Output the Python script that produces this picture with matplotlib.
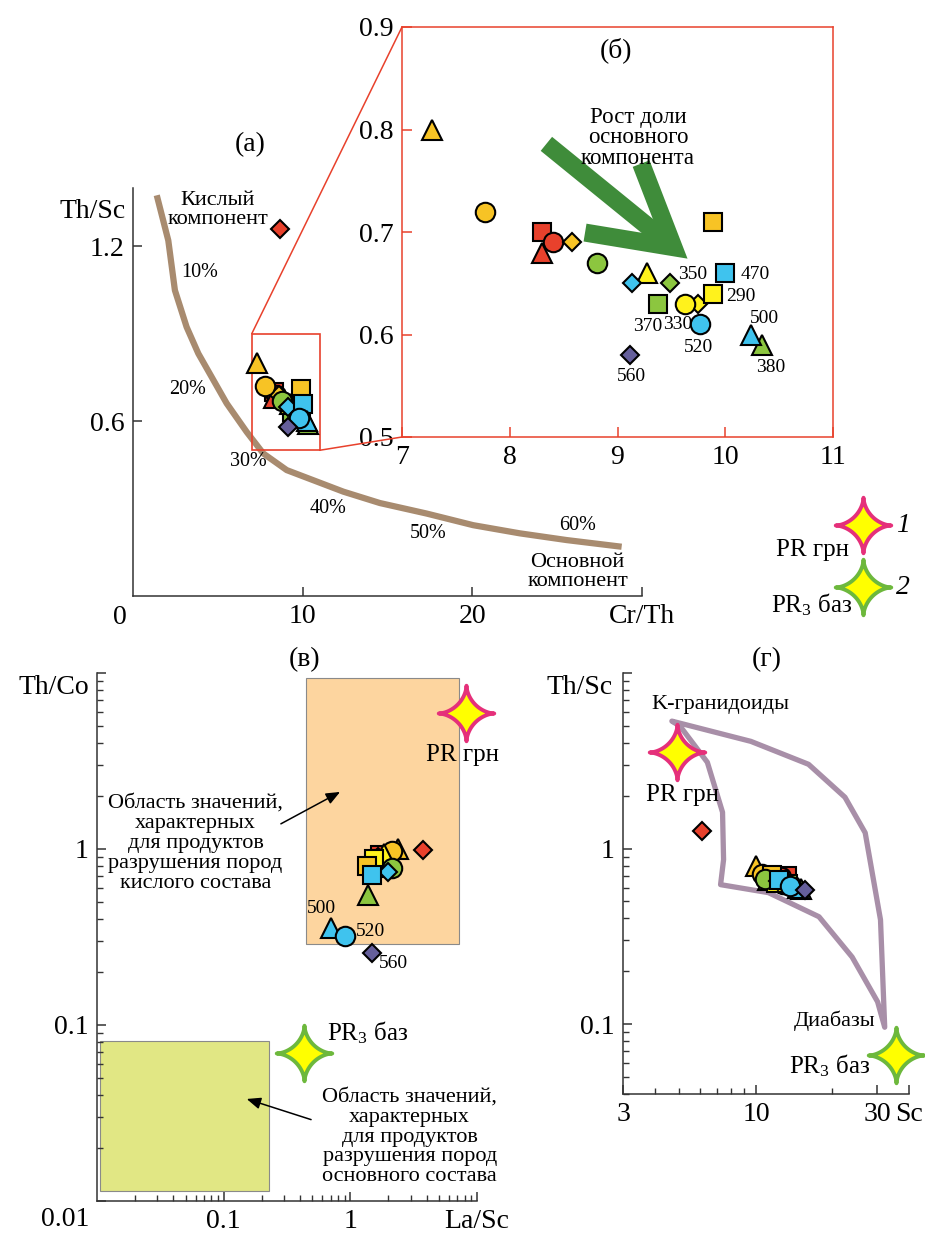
import numpy as np
import matplotlib.pyplot as plt
from matplotlib.path import Path
from matplotlib.patches import Rectangle, Polygon, ConnectionPatch
from matplotlib.lines import Line2D
from matplotlib.ticker import NullFormatter

plt.rcParams['font.family'] = ['Liberation Serif', 'DejaVu Serif']
plt.rcParams['mathtext.fontset'] = 'custom'
plt.rcParams['mathtext.rm'] = 'Liberation Serif'
plt.rcParams['mathtext.it'] = 'Liberation Serif:italic'

RED = '#e8412c'
GOLD = '#f7c325'
YEL = '#fff21c'
GRN = '#8cc63f'
BLU = '#3fc3ee'
PUR = '#655f9b'

# samples: symbol, fill colour and ratios
sym = ['s', 'o', '^', 'D', 'D', 'o', 'D', 's', '^', 'o', '^',
       's', 's', 'o', 'D', 's', '^', '^', 'o', 'D', 'D']
col = [RED, RED, RED, GOLD, YEL, YEL, GRN, GRN, GOLD, GOLD, YEL,
       YEL, GOLD, GRN, BLU, BLU, GRN, BLU, BLU, PUR, RED]
cr_th = [8.30, 8.40, 8.30, 8.58, 9.75, 9.63, 9.49, 9.38, 7.28, 7.77, 9.27,
         9.89, 9.89, 8.81, 9.13, 10.0, 10.34, 10.24, 9.77, 9.12, 8.66]
th_sc = [0.70, 0.69, 0.68, 0.69, 0.63, 0.63, 0.65, 0.63, 0.80, 0.72, 0.66,
         0.64, 0.71, 0.67, 0.65, 0.66, 0.59, 0.60, 0.61, 0.58, 1.26]
la_sc = [1.70, 2.00, 2.05, 1.65, 1.90, 1.75, 1.80, 1.60, 2.36, 2.15, 1.86,
         1.55, 1.36, 2.15, 1.97, 1.47, 1.39, 0.71, 0.90, 1.49, 3.73]
th_co = [0.92, 0.90, 0.88, 0.90, 0.90, 0.86, 0.80, 0.78, 1.00, 0.98, 0.94,
         0.88, 0.80, 0.78, 0.74, 0.71, 0.55, 0.355, 0.32, 0.256, 0.99]
sc = [13.2, 12.6, 12.4, 12.0, 12.6, 12.8, 13.0, 13.4, 10.0, 10.6, 11.2,
      12.0, 11.6, 10.9, 12.2, 12.3, 15.0, 14.6, 13.6, 15.6, 6.15]

# sample numbers shown next to points
num_lbl = ['350', '470', '290', '370', '330', '520', '500', '380', '560']
num_x = [9.70, 10.28, 10.14, 9.28, 9.56, 9.75, 10.36, 10.42, 9.13]
num_y = [0.659, 0.659, 0.637, 0.608, 0.610, 0.587, 0.616, 0.568, 0.559]

# mixing curve between acid and basic end members
mix_x = [1.4, 2.08, 2.47, 3.16, 3.85, 5.52, 6.70, 7.68, 9.06, 12.4,
         14.55, 17.3, 20.05, 22.8, 25.55, 28.8]
mix_y = [1.375, 1.22, 1.049, 0.923, 0.832, 0.661, 0.563, 0.489, 0.432, 0.358,
         0.319, 0.283, 0.243, 0.215, 0.192, 0.169]
pct_lbl = ['10%', '20%', '30%', '40%', '50%', '60%']
pct_x = [3.95, 3.24, 6.78, 11.5, 17.4, 26.2]
pct_y = [1.11, 0.71, 0.46, 0.30, 0.216, 0.243]

# end members
pr_grn_lasc, pr_grn_thco = 8.2, 5.9
pr3_baz_lasc, pr3_baz_thco = 0.43, 0.069
pr_grn_sc, pr_grn_thsc = 4.89, 3.54
pr3_baz_sc, pr3_baz_thsc = 35.5, 0.067

# fields in La/Sc - Th/Co
acid_field = [0.45, 7.2, 0.29, 9.4]
basic_field = [0.0105, 0.227, 0.0114, 0.081]

# K-granitoid field in Sc - Th/Sc
kgr_sc = [4.67, 9.55, 16.1, 22.4, 26.9, 30.9, 32.1, 30.1, 23.9, 17.7,
          11.2, 7.26, 7.46, 7.39, 6.44, 5.03]
kgr_thsc = [5.32, 4.08, 3.02, 1.96, 1.23, 0.393, 0.096, 0.134, 0.241, 0.409,
            0.561, 0.623, 0.865, 1.61, 3.10, 4.98]

msize = {'o': 14, 's': 13.5, '^': 15, 'D': 9.5}

t = np.linspace(0, 2 * np.pi, 161)
star_xy = np.column_stack([np.sign(np.cos(t)) * np.abs(np.cos(t)) ** 3.3,
                           np.sign(np.sin(t)) * np.abs(np.sin(t)) ** 3.3])
STAR = Path(star_xy, closed=True)

W, H = 925.0, 1233.0
TICK_FS = 20
NOTE_FS = 16


def box(l, t, r, b):
    return [l / W, 1 - b / H, (r - l) / W, (b - t) / H]


def ftext(px, py, s, **kw):
    fig.text(px / W, 1 - py / H, s, **kw)


def style(ax):
    for s in ['top', 'right']:
        ax.spines[s].set_visible(False)
    for s in ['left', 'bottom']:
        ax.spines[s].set_linewidth(1.1)
        ax.spines[s].set_color('#333333')
    ax.tick_params(which='major', direction='in', length=6.5, width=1.1,
                   labelsize=TICK_FS, pad=6, color='#333333')
    ax.tick_params(which='minor', direction='in', length=4.5, width=1.0,
                   color='#333333')


def draw_samples(ax, xs, ys):
    for x, y, m, c in zip(xs, ys, sym, col):
        ax.plot(x, y, marker=m, ms=msize[m], mfc=c, mec='black', mew=1.5,
                ls='none', zorder=5)


def draw_star(ax, x, y, edge, transform=None):
    kw = {} if transform is None else {'transform': transform}
    ln = Line2D([x], [y], marker=STAR, ms=40, mfc='#ffff00', mec=edge,
                mew=2.8, ls='none', zorder=6, clip_on=False, **kw)
    if transform is None:
        ax.add_line(ln)
    else:
        fig.add_artist(ln)


fig = plt.figure(figsize=(9.25, 12.33), dpi=100)

# (а) Cr/Th - Th/Sc
ax_a = fig.add_axes(box(133, 188, 642, 596))
style(ax_a)
ax_a.set_xlim(0, 30)
ax_a.set_ylim(0, 1.4)
ax_a.set_xticks([10, 20, 30], ['10', '20', 'Cr/Th'])
ax_a.set_yticks([0.6, 1.2], ['0.6', '1.2'])
ax_a.plot(mix_x, mix_y, color='#a88b6f', lw=4.5, solid_capstyle='butt', zorder=2)
for s, x, y in zip(pct_lbl, pct_x, pct_y):
    ax_a.text(x, y, s, fontsize=14.5, ha='center', va='center')
ax_a.add_patch(Rectangle((7, 0.5), 4, 0.4, fill=False, ec=RED, lw=1.2, zorder=3))
draw_samples(ax_a, cr_th, th_sc)
ax_a.text(5.0, 1.325, 'Кислый\nкомпонент', fontsize=NOTE_FS, ha='center',
          va='center', linespacing=0.95)
ax_a.text(26.2, 0.082, 'Основной\nкомпонент', fontsize=NOTE_FS, ha='center',
          va='center', linespacing=0.97)
ftext(126, 212, 'Th/Sc', fontsize=TICK_FS, ha='right', va='center')
ftext(120, 617, '0', fontsize=TICK_FS, ha='center', va='center')
ftext(250, 145, '(а)', fontsize=TICK_FS, ha='center', va='center')

# (б) enlarged part of (а)
ax_b = fig.add_axes(box(402, 27, 833, 437))
ax_b.set_xlim(7, 11)
ax_b.set_ylim(0.5, 0.9)
for s in ax_b.spines.values():
    s.set_color(RED)
    s.set_linewidth(1.1)
ax_b.tick_params(direction='in', length=7, width=1.1, color=RED,
                 labelsize=TICK_FS, pad=6)
ax_b.set_xticks([7, 8, 9, 10, 11], ['7', '8', '9', '10', '11'])
ax_b.set_yticks([0.5, 0.6, 0.7, 0.8, 0.9], ['0.5', '0.6', '0.7', '0.8', '0.9'])
ax_b.annotate('', xy=(9.65, 0.674), xytext=(8.34, 0.786),
              arrowprops=dict(arrowstyle='->,head_length=0.56,head_width=0.32',
                              lw=13, color='#3f8c3a', mutation_scale=100,
                              shrinkA=0, shrinkB=0, joinstyle='miter',
                              capstyle='butt'))
ax_b.text(9.19, 0.792, 'Рост доли\nосновного\nкомпонента', fontsize=NOTE_FS + 0.5,
          ha='center', va='center', linespacing=0.98, zorder=7)
draw_samples(ax_b, cr_th, th_sc)
for s, x, y in zip(num_lbl, num_x, num_y):
    ax_b.text(x, y, s, fontsize=14, ha='center', va='center', zorder=7)
ax_b.text(8.99, 0.877, '(б)', fontsize=TICK_FS, ha='center', va='center')

for xa, ya, xb, yb in [(7, 0.9, 7, 0.9), (11, 0.5, 7, 0.5)]:
    fig.add_artist(ConnectionPatch(xyA=(xa, ya), coordsA=ax_a.transData,
                                   xyB=(xb, yb), coordsB=ax_b.transData,
                                   color=RED, lw=1.1))

# legend of end members
draw_star(None, 863 / W, 1 - 525 / H, '#e5307a', transform=fig.transFigure)
draw_star(None, 863 / W, 1 - 587 / H, '#6db83c', transform=fig.transFigure)
ftext(903, 525, '1', fontsize=TICK_FS, style='italic', ha='center', va='center')
ftext(903, 587, '2', fontsize=TICK_FS, style='italic', ha='center', va='center')
ftext(812, 550, 'PR грн', fontsize=18, ha='center', va='center')
ftext(812, 605, 'PR$_3$ баз', fontsize=18, ha='center', va='center')

# (в) La/Sc - Th/Co
ax_c = fig.add_axes(box(97, 673, 477, 1201))
style(ax_c)
ax_c.set_xscale('log')
ax_c.set_yscale('log')
ax_c.set_xlim(0.01, 10)
ax_c.set_ylim(0.01, 10)
ax_c.set_xticks([0.1, 1, 10], ['0.1', '1', 'La/Sc'])
ax_c.set_yticks([0.01, 0.1, 1, 10], ['', '0.1', '1', ''])
ax_c.xaxis.set_minor_formatter(NullFormatter())
ax_c.yaxis.set_minor_formatter(NullFormatter())
ax_c.add_patch(Rectangle((acid_field[0], acid_field[2]), acid_field[1] - acid_field[0],
                         acid_field[3] - acid_field[2], fc='#fdd59f', ec='#8a8a8a',
                         lw=0.8, zorder=1))
ax_c.add_patch(Rectangle((basic_field[0], basic_field[2]), basic_field[1] - basic_field[0],
                         basic_field[3] - basic_field[2], fc='#e1e784', ec='#8a8a8a',
                         lw=0.8, zorder=1))
draw_samples(ax_c, la_sc, th_co)
draw_star(ax_c, pr_grn_lasc, pr_grn_thco, '#e5307a')
draw_star(ax_c, pr3_baz_lasc, pr3_baz_thco, '#6db83c')
ax_c.text(7.74, 3.42, 'PR грн', fontsize=18, ha='center', va='center')
ax_c.text(0.66, 0.090, 'PR$_3$ баз', fontsize=18, ha='left', va='center')
ax_c.text(0.589, 0.462, '500', fontsize=14, ha='center', va='center')
ax_c.text(1.10, 0.342, '520', fontsize=14, ha='left', va='center')
ax_c.text(1.68, 0.225, '560', fontsize=14, ha='left', va='center')
ax_c.text(0.060, 1.08, 'Область значений,\nхарактерных\nдля продуктов\n'
          'разрушения пород\nкислого состава', fontsize=NOTE_FS, ha='center',
          va='center', linespacing=1.07)
ax_c.text(2.94, 0.0231, 'Область значений,\nхарактерных\nдля продуктов\n'
          'разрушения пород\nосновного состава', fontsize=NOTE_FS, ha='center',
          va='center', linespacing=1.07)
arrow_kw = dict(arrowstyle='-|>,head_length=0.6,head_width=0.25', lw=1.1,
                color='black', mutation_scale=14, shrinkA=0, shrinkB=0)
ax_c.annotate('', xy=(0.83, 2.11), xytext=(0.283, 1.39), arrowprops=arrow_kw)
ax_c.annotate('', xy=(0.152, 0.038), xytext=(0.49, 0.029), arrowprops=arrow_kw)
ftext(89, 687, 'Th/Co', fontsize=TICK_FS, ha='right', va='center')
ftext(65, 1220, '0.01', fontsize=TICK_FS, ha='center', va='center')
ftext(305, 660, '(в)', fontsize=TICK_FS, ha='center', va='center')

# (г) Sc - Th/Sc
ax_d = fig.add_axes(box(623, 673, 909, 1094))
style(ax_d)
ax_d.set_xscale('log')
ax_d.set_yscale('log')
ax_d.set_xlim(3, 40)
ax_d.set_ylim(0.04, 10)
ax_d.set_xticks([3, 10, 30, 40], ['3', '10', '30', 'Sc'])
ax_d.set_yticks([0.1, 1, 10], ['0.1', '1', ''])
ax_d.xaxis.set_minor_formatter(NullFormatter())
ax_d.yaxis.set_minor_formatter(NullFormatter())
ax_d.add_patch(Polygon(np.column_stack([kgr_sc, kgr_thsc]), closed=True, fill=False,
                       ec='#a88fa8', lw=3.8, joinstyle='round', zorder=2))
draw_samples(ax_d, sc, th_sc)
draw_star(ax_d, pr_grn_sc, pr_grn_thsc, '#e5307a')
draw_star(ax_d, pr3_baz_sc, pr3_baz_thsc, '#6db83c')
ax_d.text(7.26, 6.65, 'K-гранидоиды', fontsize=NOTE_FS, ha='center', va='center')
ax_d.text(5.12, 2.03, 'PR грн', fontsize=18, ha='center', va='center')
ax_d.text(20.3, 0.104, 'Диабазы', fontsize=NOTE_FS, ha='center', va='center')
ax_d.text(19.4, 0.058, 'PR$_3$ баз', fontsize=18, ha='center', va='center')
ftext(613, 687, 'Th/Sc', fontsize=TICK_FS, ha='right', va='center')
ftext(767, 660, '(г)', fontsize=TICK_FS, ha='center', va='center')

fig.savefig('out.png', dpi=100)
